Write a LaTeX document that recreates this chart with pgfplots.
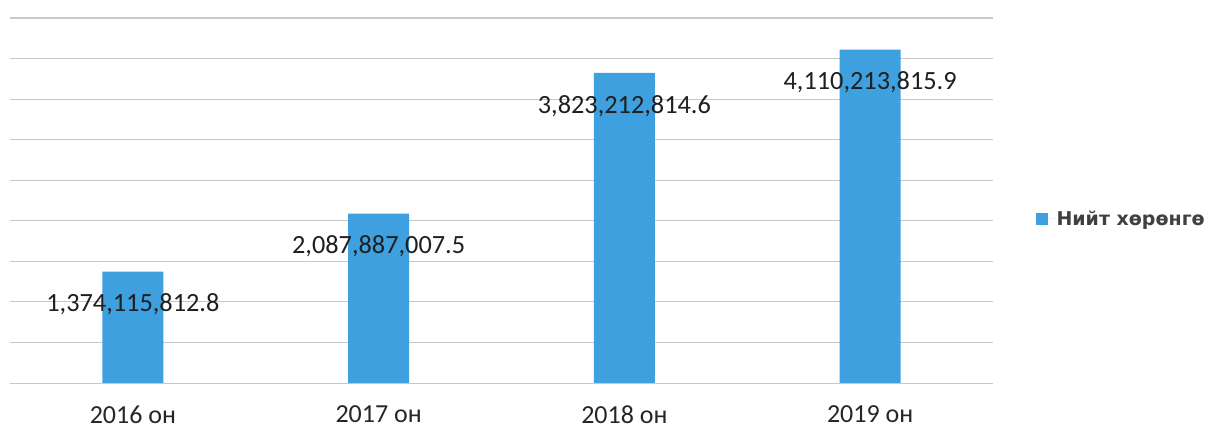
\documentclass[border=0pt]{standalone}
\usepackage{pgfplots}
\pgfplotsset{compat=1.18}
\usepackage{pgfplotstable}
\usepackage{fontspec}
\setmainfont{Carlito}
\newfontfamily\legfont{DejaVu Sans}
\definecolor{barblue}{RGB}{62,160,222}
\definecolor{gridgray}{RGB}{200,200,200}
\pgfplotstableread{
x y label
0 1374115812.8 1,374,115,812.8
1 2087887007.5 2,087,887,007.5
2 3823212814.6 3,823,212,814.6
3 4110213815.9 4,110,213,815.9
}\datatable
\begin{document}
\begin{tikzpicture}
\path[use as bounding box] (0,0) rectangle (1209bp,428bp);
\begin{axis}[
  at={(10bp,45bp)}, anchor=south west,
  scale only axis, width=983bp, height=365bp,
  xmin=-0.5, xmax=3.5, ymin=0, ymax=4.5e9,
  scaled y ticks=false,
  ytick={0,5e8,1e9,1.5e9,2e9,2.5e9,3e9,3.5e9,4e9},
  extra y ticks={4.5e9},
  extra y tick style={grid style={draw=gridgray, line width=2bp}},
  yticklabels={}, extra y tick labels={},
  ymajorgrids, grid style={draw=gridgray, line width=1bp},
  axis line style={draw=none}, major tick length=0pt,
  xtick={0,1,2,3},
  xticklabels={2016 он,2017 он,2018 он,2019 он},
  xticklabel style={font=\fontsize{26bp}{30bp}\selectfont, text=black!85, yshift=-19bp},
  ybar, bar width=61bp,
  nodes near coords, point meta=explicit symbolic,
  nodes near coords style={font=\fontsize{26.3bp}{30bp}\selectfont, anchor=center, yshift=-33bp, text=black!88},
  legend style={at={(1.04,0.45)}, anchor=west, draw=none, fill=none,
    font=\legfont\bfseries\fontsize{19bp}{22bp}\selectfont, text=black!75},
  legend image code/.code={\fill[barblue] (0bp,-6bp) rectangle (12bp,6bp); \path (0bp,0bp) -- (19bp,0bp);},
]
\addplot[fill=barblue, draw=none] table[x=x,y=y,meta=label]{\datatable};
\legend{Нийт хөрөнгө}
\end{axis}
\end{tikzpicture}
\end{document}
